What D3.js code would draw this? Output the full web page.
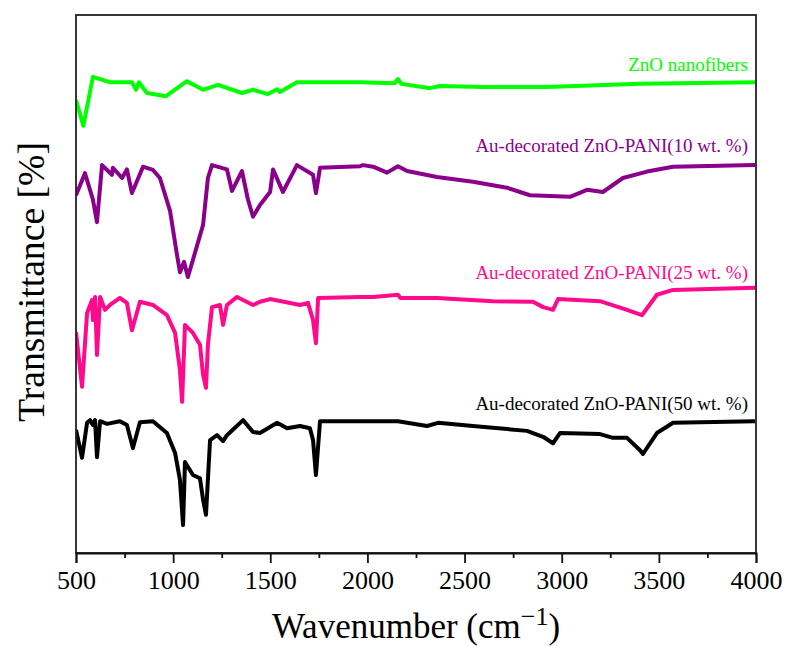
<!DOCTYPE html>
<html>
<head>
<meta charset="utf-8">
<script src="https://cdn.jsdelivr.net/npm/d3@7"></script>
<style>
  body { margin: 0; background: #fff; }
  text { font-family: "Liberation Serif", "Times New Roman", serif; }
</style>
</head>
<body>
<div id="chart"></div>
<script>
// FTIR spectra, [wavenumber cm-1, transmittance (offset, a.u.)]
var zno = [[500,84.2],[538,79.4],[587,88.5],[675,87.5],[788,87.5],[809,86.1],[824,87.5],[865,85.5],
  [963,84.9],[1071,87.7],[1154,86.1],[1231,87.0],[1354,85.5],[1411,86.1],[1488,85.3],[1535,86.2],
  [1550,85.7],[1637,87.5],[1962,87.5],[2140,87.3],[2157,88.1],[2175,87.2],[2322,86.4],[2373,86.8],
  [2595,86.6],[2924,86.6],[3403,87.2],[3995,87.5]];

var pani10 = [[500,66.5],[546,70.6],[587,65.7],[608,61.5],[634,72.1],[685,70.3],[690,71.6],[737,69.7],
  [762,71.3],[788,66.9],[845,71.8],[896,71.2],[932,69.7],[984,63.6],[1020,55.4],[1035,52.2],
  [1056,54.1],[1076,51.3],[1102,54.5],[1154,61.0],[1179,69.7],[1200,72.1],[1277,71.3],[1303,67.3],
  [1354,71.0],[1385,65.7],[1411,62.5],[1447,64.7],[1499,67.1],[1514,71.3],[1565,67.1],[1637,72.1],
  [1720,70.3],[1735,66.9],[1756,71.6],[1962,71.9],[1977,72.1],[2029,71.8],[2101,70.7],[2157,71.9],
  [2204,71.0],[2358,69.9],[2543,69.0],[2718,67.9],[2837,66.5],[3043,66.2],[3130,67.5],[3212,67.1],
  [3315,69.7],[3439,70.9],[3573,71.8],[3995,72.1]];

var pani25 = [[500,41.1],[531,30.9],[557,44.6],[582,47.0],[587,43.3],[598,47.6],[608,36.8],[624,47.6],
  [649,45.2],[675,46.1],[726,47.4],[762,46.5],[788,41.4],[829,46.7],[896,46.1],[968,44.2],
  [1010,40.9],[1035,34.0],[1046,28.1],[1061,42.4],[1102,40.9],[1138,38.7],[1154,33.1],[1169,30.7],
  [1179,38.7],[1200,45.7],[1241,46.1],[1257,42.4],[1277,46.1],[1329,47.6],[1411,46.1],[1447,46.7],
  [1499,47.2],[1653,46.1],[1694,46.5],[1720,43.3],[1735,39.0],[1746,47.4],[1962,47.6],[2029,47.6],
  [2157,48.0],[2170,47.4],[2358,47.4],[2646,46.8],[2852,46.7],[2904,45.7],[2955,45.2],[2981,47.2],
  [3197,46.8],[3336,45.2],[3413,44.2],[3490,48.0],[3573,48.9],[3995,49.3]];

var pani50 = [[500,22.9],[531,17.7],[557,24.2],[572,24.7],[587,23.8],[598,24.7],[608,17.8],[624,24.5],
  [660,24.0],[726,24.5],[762,23.8],[793,19.5],[829,24.3],[896,24.5],[968,22.3],[1010,18.6],
  [1035,13.6],[1051,5.2],[1061,16.9],[1102,14.5],[1138,13.9],[1154,9.9],[1169,7.1],[1190,21.0],
  [1226,21.9],[1257,20.8],[1277,21.9],[1360,24.7],[1411,22.5],[1447,22.3],[1535,24.2],[1586,23.2],
  [1653,23.6],[1704,23.2],[1720,21.0],[1735,14.5],[1756,24.5],[1962,24.5],[2029,24.5],[2157,24.5],
  [2307,23.6],[2363,24.2],[2543,23.6],[2821,22.7],[2904,21.6],[2955,20.4],[2991,22.3],[3197,22.1],
  [3264,21.4],[3336,21.4],[3403,19.1],[3418,18.4],[3490,22.3],[3573,24.2],[3995,24.5]];

var seriesNames = ["ZnO nanofibers", "Au-decorated ZnO-PANI(10 wt. %)",
  "Au-decorated ZnO-PANI(25 wt. %)", "Au-decorated ZnO-PANI(50 wt. %)"];
var seriesColors = ["#00ff00", "#8b008b", "#ff0a8c", "#000000"];
var seriesData = [zno, pani10, pani25, pani50];
var labelLevels = [89.5, 74.5, 51, 26.5];   // where each name sits, in y units

var xTicks = [500, 1000, 1500, 2000, 2500, 3000, 3500, 4000];
var xMinor = [750, 1250, 1750, 2250, 2750, 3250, 3750];

var W = 787, H = 646;
var mLeft = 76, mRight = 756, mTop = 15, mBottom = 553;

var svg = d3.select("#chart").append("svg")
  .attr("width", W).attr("height", H);

var x = d3.scaleLinear().domain([500, 4000]).range([mLeft, mRight]);
var y = d3.scaleLinear().domain([0, 100]).range([mBottom, mTop]);

var line = d3.line()
  .x(d => x(d[0]))
  .y(d => y(d[1]));

svg.append("clipPath").attr("id", "clip")
  .append("rect").attr("x", mLeft).attr("y", mTop)
  .attr("width", mRight - mLeft).attr("height", mBottom - mTop);

var plot = svg.append("g").attr("clip-path", "url(#clip)");

seriesData.forEach((s, i) => {
  plot.append("path")
    .datum(s)
    .attr("d", line)
    .attr("fill", "none")
    .attr("stroke", seriesColors[i])
    .attr("stroke-width", 4)
    .attr("stroke-linejoin", "round");
});

// series names
seriesNames.forEach((name, i) => {
  svg.append("text")
    .attr("x", mRight - 8)
    .attr("y", y(labelLevels[i]))
    .attr("text-anchor", "end")
    .attr("font-size", 19)
    .attr("fill", seriesColors[i])
    .text(name);
});

// frame
svg.append("rect")
  .attr("x", mLeft).attr("y", mTop)
  .attr("width", mRight - mLeft).attr("height", mBottom - mTop)
  .attr("fill", "none").attr("stroke", "#222").attr("stroke-width", 1.8);

// x axis
var xAxis = d3.axisBottom(x).tickValues(xTicks).tickSize(10).tickPadding(8).tickFormat(d3.format("d"));
var gx = svg.append("g").attr("transform", "translate(0," + mBottom + ")").call(xAxis);
gx.select(".domain").attr("stroke", "#111").attr("stroke-width", 1.8);
gx.selectAll(".tick line").attr("stroke", "#111").attr("stroke-width", 1.8);
gx.selectAll(".tick text").attr("font-size", 26).attr("fill", "#000")
  .attr("font-family", "Liberation Serif");

svg.append("g").attr("transform", "translate(0," + mBottom + ")")
  .call(d3.axisBottom(x).tickValues(xMinor).tickSize(5).tickFormat(""))
  .call(g => g.select(".domain").remove())
  .selectAll(".tick line").attr("stroke", "#111").attr("stroke-width", 1.8);

// axis titles
var xt = svg.append("text")
  .attr("x", (mLeft + mRight) / 2)
  .attr("y", 638)
  .attr("text-anchor", "middle")
  .attr("font-size", 35)
  .attr("fill", "#000");
xt.append("tspan").text("Wavenumber (cm");
xt.append("tspan").attr("dy", -13).attr("font-size", 26).text("\u22121");
xt.append("tspan").attr("dy", 13).text(")");

svg.append("text")
  .attr("transform", "translate(44," + 282 + ") rotate(-90)")
  .attr("text-anchor", "middle")
  .attr("font-size", 38)
  .attr("textLength", 280)
  .attr("lengthAdjust", "spacingAndGlyphs")
  .attr("fill", "#000")
  .text("Transmittance [%]");
</script>
</body>
</html>
